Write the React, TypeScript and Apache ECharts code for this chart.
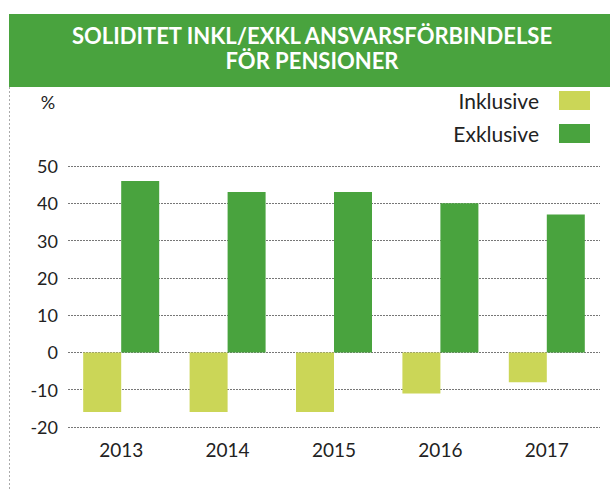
import React, { useEffect, useRef } from "react";
import * as echarts from "echarts";

const years = ["2013", "2014", "2015", "2016", "2017"];
const inklusive = [-16, -16, -16, -11, -8];
const exklusive = [46, 43, 43, 40, 37];
const titleLines = ["SOLIDITET INKL/EXKL ANSVARSFÖRBINDELSE", "FÖR PENSIONER"];

const FONT = "Lato, 'Open Sans', sans-serif";
const GREEN = "#49a33e";
const LIGHT = "#cbd657";

export default function App() {
  const ref = useRef<HTMLDivElement>(null);
  useEffect(() => {
    if (!ref.current) return;
    const chart = echarts.init(ref.current, undefined, { renderer: "svg" });
    chart.setOption({
      animation: false,
      textStyle: { fontFamily: FONT },
      graphic: [
        { type: "rect", shape: { x: 9, y: 14, width: 601, height: 73 }, style: { fill: GREEN } },
        {
          type: "text",
          x: 312,
          y: 48,
          style: {
            text: titleLines.join("\n"),
            fill: "#fff",
            font: `bold 22px ${FONT}`,
            align: "center",
            verticalAlign: "middle",
            lineHeight: 25,
          },
        },
        {
          type: "line",
          shape: { x1: 9.5, y1: 87, x2: 9.5, y2: 489 },
          style: { stroke: "#aaa", lineWidth: 1, lineDash: [2, 2] },
        },
        {
          type: "text",
          x: 48,
          y: 102,
          style: { text: "%", fill: "#222", font: `18px ${FONT}`, align: "center", verticalAlign: "middle" },
        },
      ],
      legend: {
        orient: "vertical",
        right: 20,
        top: 90,
        padding: 0,
        align: "right",
        itemWidth: 31,
        itemHeight: 19,
        itemGap: 12,
        icon: "rect",
        textStyle: { fontSize: 21, lineHeight: 19, color: "#222", fontFamily: FONT, padding: [0, 15, 0, 0] },
        data: ["Inklusive", "Exklusive"],
      },
      grid: { left: 68, right: 10, top: 166, bottom: 62, containLabel: false },
      xAxis: {
        type: "category",
        data: years,
        axisLine: { show: false },
        axisTick: { show: false },
        axisLabel: { fontSize: 19, color: "#222", margin: 13, fontFamily: FONT },
      },
      yAxis: {
        type: "value",
        min: -20,
        max: 50,
        interval: 10,
        axisLine: { show: false },
        axisTick: { show: false },
        axisLabel: { fontSize: 18, color: "#222", margin: 10, fontFamily: FONT },
        splitLine: { lineStyle: { color: "#777", type: [2, 1], width: 1 } },
      },
      series: [
        {
          name: "Inklusive",
          type: "bar",
          data: inklusive,
          barWidth: 38,
          barGap: "0%",
          itemStyle: { color: LIGHT },
        },
        {
          name: "Exklusive",
          type: "bar",
          data: exklusive,
          barWidth: 38,
          itemStyle: { color: GREEN },
        },
      ],
    });
    return () => chart.dispose();
  }, []);
  return (
    <div
      ref={ref}
      style={{ position: "fixed", left: 0, top: 0, width: 610, height: 489, background: "#fff" }}
    />
  );
}
